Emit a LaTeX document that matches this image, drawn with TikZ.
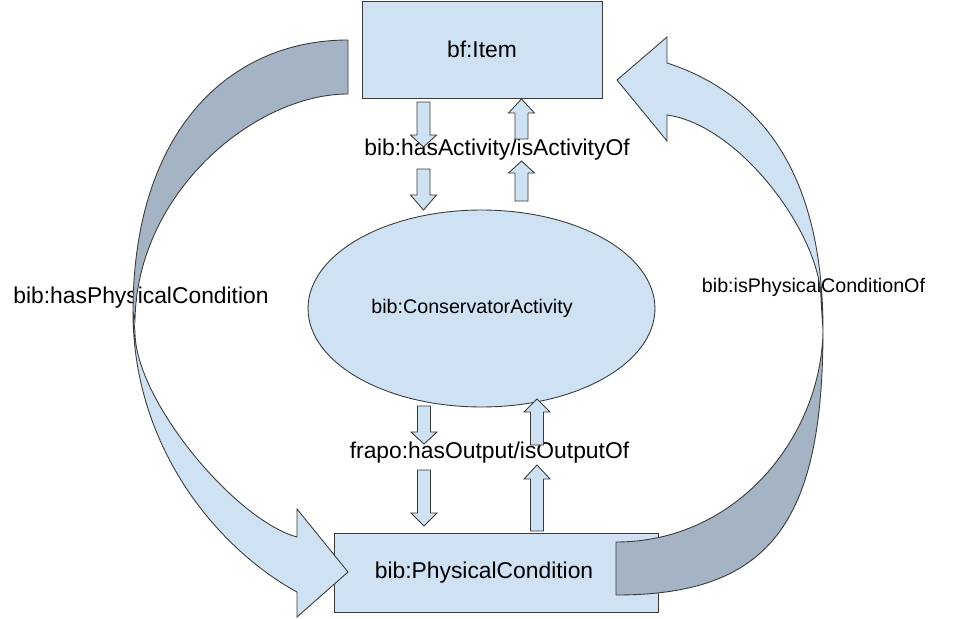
\documentclass[tikz,border=0pt]{standalone}
\usepackage{fontspec}
\setmainfont{Liberation Sans}
\usetikzlibrary{positioning,shapes.geometric}
\definecolor{paleblue}{HTML}{CFE2F3}
\definecolor{slateback}{HTML}{A4B4C4}
\definecolor{inkline}{HTML}{3A3A3A}
% block arrow: x, tail, head base, tip
\newcommand{\fatarrow}[4]{%
  \draw [fat] (#1-6.5,#2) -- (#1+6.5,#2) -- (#1+6.5,#3) -- (#1+13,#3) -- (#1,#4) -- (#1-13,#3) -- (#1-6.5,#3) -- cycle;}

\begin{document}
\begin{tikzpicture}[x=0.02cm, y=-0.02cm,
    box/.style={draw=inkline, fill=paleblue, line width=0.5pt, inner sep=0pt},
    fat/.style={draw=inkline, fill=paleblue, line width=0.5pt},
    back/.style={draw=inkline, fill=slateback, line width=0.5pt},
    big/.style={font=\fontsize{13}{15}\selectfont},
    small/.style={font=\fontsize{11.2}{13}\selectfont}]
    \useasboundingbox (0,0) rectangle (975,619);
    \node [box, big, minimum width=4.8cm, minimum height=1.94cm] (item) at (482,49.5) {bf:Item};
    \node [box, small, ellipse, minimum width=6.94cm, minimum height=3.94cm] (act) at (481.5,308.5) {\hspace*{-10.8pt}bib:ConservatorActivity};
    \node [box, big, minimum width=6.48cm, minimum height=1.58cm] (cond) at (496,572.5) {\hspace*{-13.6pt}bib:PhysicalCondition};
    \node [big] (hasact) at (497,150) {bib:hasActivity/isActivityOf};
    \node [big] (hasout) at (489.5,453) {frapo:hasOutput/isOutputOf};
    \node [big] (haspc) at (141,298) {bib:hasPhysicalCondition};
    \node [small] (ispc) at (813.5,287) {bib:isPhysicalConditionOf};
    \fatarrow{423.5}{102}{135}{147}
    \fatarrow{423.5}{169}{195}{210}
    \fatarrow{521.5}{139}{113}{99}
    \fatarrow{521.5}{201}{173}{161}
    \fatarrow{424}{406}{432}{444}
    \fatarrow{424}{470}{513}{526}
    \fatarrow{537}{445}{412}{399}
    \fatarrow{537}{531}{479}{465}
    % left curved arrow
    \draw [back] (348,40) .. controls (230,40) and (133,130) .. (133,312) -- (135,320) .. controls (137,192) and (255,94) .. (348,94) -- cycle;
    \draw [fat] (133,312) .. controls (133,450) and (220,550) .. (297,592) -- (297,617) -- (348,572) -- (297,509) -- (297,537) .. controls (235,520) and (135,400) .. (135,332) -- cycle;
    % right curved arrow
    \draw [back] (616,595) .. controls (769,595) and (823,524) .. (823,330) .. controls (822,434) and (739,542) .. (616,542) -- cycle;
    \draw [fat] (823,330) .. controls (823,160) and (750,90) .. (667,63) -- (667,37) -- (617,80) -- (667,141) -- (667,115) .. controls (740,125) and (821,235) .. (821,300) -- cycle;
\end{tikzpicture}
\end{document}
